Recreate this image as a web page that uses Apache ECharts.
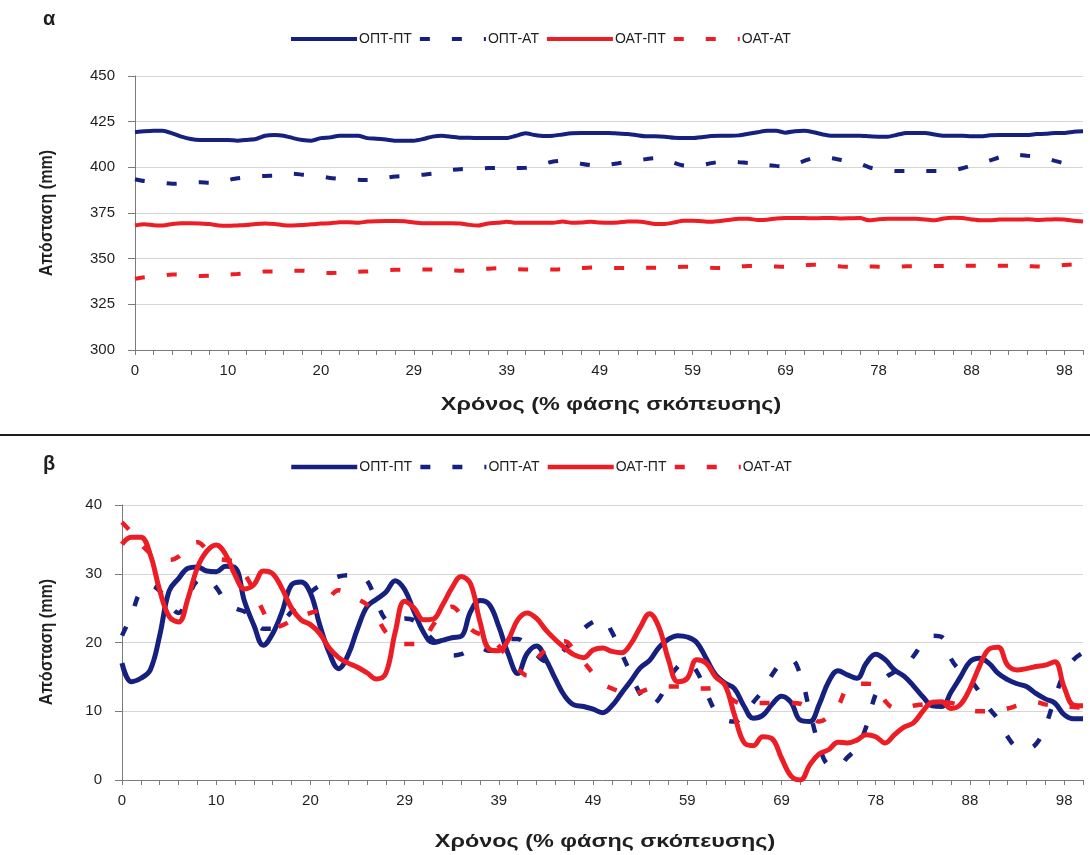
<!DOCTYPE html>
<html>
<head>
<meta charset="utf-8">
<script src="https://cdn.jsdelivr.net/npm/echarts@6/dist/echarts.min.js"></script>
<style>
  html, body { margin: 0; padding: 0; background: #ffffff; }
  #wrap { position: relative; width: 1090px; height: 855px; }
  #chartA { position: absolute; left: 0; top: 0; width: 1090px; height: 434px; }
  #divider { position: absolute; left: 0; top: 434px; width: 1090px; height: 2px; background: #1e1e1e; }
  #chartB { position: absolute; left: 0; top: 436px; width: 1090px; height: 419px; }
</style>
</head>
<body>
<div id="wrap">
  <div id="chartA"></div>
  <div id="divider"></div>
  <div id="chartB"></div>
</div>
<script>
// Time axis: 103 samples over the aiming phase (0–100 %), labelled every 10th sample
const SAMPLE_COUNT = 103;
const xTickLabels = ['0', '10', '20', '29', '39', '49', '59', '69', '78', '88', '98'];
const seriesNames = ['ΟΠΤ-ΠΤ', 'ΟΠΤ-ΑΤ', 'ΟΑΤ-ΠΤ', 'ΟΑΤ-ΑΤ'];
const xTitle = 'Χρόνος (% φάσης σκόπευσης)';
const yTitle = 'Απόσταση (mm)';

// Panel α: distance (mm)
const optPtA = [
  419.2, 419.7, 420, 420, 418.6, 416.8, 415.5, 415, 415, 415,
  415, 414.6, 415, 415.5, 417.3, 417.7, 417.3, 416, 415, 414.6,
  416, 416.4, 417.3, 417.3, 417.3, 416, 415.7, 415.2, 414.6, 414.6,
  414.6, 415.5, 416.8, 417.3, 416.8, 416.2, 416.2, 416, 416, 416,
  416, 417.3, 418.6, 417.7, 417.2, 417.3, 418, 418.6, 418.8, 418.8,
  418.8, 418.8, 418.5, 418.3, 417.6, 417, 417, 416.8, 416.2, 416,
  416, 416.5, 417.2, 417.3, 417.3, 417.5, 418.4, 419.2, 420, 420,
  419, 419.8, 420, 419.2, 418, 417.3, 417.3, 417.3, 417.3, 417,
  416.8, 416.8, 417.8, 418.8, 418.8, 418.8, 418, 417.3, 417.3, 417.3,
  417, 417, 417.5, 417.7, 417.7, 417.7, 417.7, 418.2, 418.4, 418.8,
  418.8, 419.5, 419.7
];
const optAtA = [
  393.5, 392.5, 392, 391.5, 391, 391.2, 391.5, 391.8, 391.5, 392,
  393, 394, 394.5, 395, 395.3, 395.5, 396, 396.5, 396, 395.5,
  395, 394.2, 393.8, 393.5, 393.2, 393, 393.5, 394.3, 395, 395.3,
  395.5, 396, 396.5, 397.5, 398.5, 399, 399.2, 399.4, 399.6, 399.7,
  399.5, 399.6, 399.7, 400.5, 402, 403.2, 403.7, 403, 402, 401.2,
  401, 401.5, 402.2, 403, 403.8, 404.5, 405, 404.2, 402.5, 401,
  400.6, 401.2, 402.3, 403.1, 403.2, 402.8, 402.4, 402, 401.3, 400.8,
  400.4, 401.5, 403.5, 405.2, 405.5, 405, 404, 403.3, 402, 400,
  398.8, 398.3, 398, 398, 398, 398, 398, 398, 398.3, 399.5,
  401, 402.2, 403.8, 405.5, 406.8, 406.8, 406.3, 405.8, 405, 403.5,
  402.2, 401.2, 400.8
];
const oatPtA = [
  368.2, 368.8, 368.3, 368.2, 369, 369.4, 369.4, 369.3, 369, 368.2,
  368, 368.2, 368.4, 369, 369.2, 369, 368.3, 368.2, 368.4, 368.8,
  369.2, 369.4, 370, 370, 369.6, 370.3, 370.5, 370.6, 370.6, 370.5,
  369.8, 369.4, 369.4, 369.4, 369.4, 369.3, 368.5, 368.2, 369.3, 369.6,
  370.2, 369.6, 369.6, 369.6, 369.6, 369.6, 370.4, 369.6, 369.8, 370.2,
  369.8, 369.6, 369.8, 370.4, 370.3, 369.8, 369, 369, 369.8, 370.7,
  370.7, 370.5, 370.2, 370.6, 371.3, 371.8, 371.8, 371.2, 371.3, 372,
  372.2, 372.2, 372.2, 372.1, 372.2, 372.2, 372, 372.1, 372.2, 371,
  371.6, 371.8, 371.8, 371.8, 371.8, 371.5, 371, 372, 372.4, 372.2,
  371.5, 371, 371, 371.4, 371.4, 371.4, 371.6, 371.2, 371.4, 371.6,
  371.4, 370.8, 370.4
];
const oatAtA = [
  339, 339.8, 340.3, 340.8, 341.3, 341.2, 340.8, 340.5, 340.6, 341,
  341.3, 341.6, 342, 342.5, 343, 343, 343.2, 343.4, 343.4, 343,
  342.5, 342.1, 342.3, 342.6, 342.9, 343, 343.2, 343.6, 343.9, 344,
  344.1, 344.1, 344, 343.7, 343.5, 343.4, 343.8, 344.2, 344.5, 344.7,
  344.5, 344.2, 344.1, 344.1, 344.1, 344.1, 344.2, 344.5, 344.8, 345.1,
  345.2, 345, 344.9, 344.9, 345, 345, 345, 345.2, 345.4, 345.6,
  345.5, 345.2, 345, 344.9, 345.3, 345.7, 346, 345.9, 345.8, 345.7,
  345.6, 346, 346.4, 346.7, 346.5, 346, 345.7, 345.6, 345.6, 345.7,
  345.6, 345.6, 345.7, 345.8, 345.8, 345.9, 346, 346, 346.1, 346.1,
  346.1, 346.1, 346.1, 346.1, 346.1, 346.1, 345.9, 345.7, 345.6, 346,
  346.5, 346.9, 347
];

// Panel β: distance (mm)
const optPtB = [
  17.0, 14.3, 14.8, 16.0, 21.0, 27.5, 29.3, 30.8, 31.0, 30.4,
  30.3, 31.1, 30.9, 26.0, 22.5, 19.6, 21.3, 24.5, 28.4, 28.8,
  27.2, 22.5, 18.5, 16.2, 18.2, 22.0, 25.2, 26.3, 27.3, 29.0,
  27.7, 24.5, 21.5, 20.0, 20.3, 20.7, 20.9, 24.5, 26.1, 25.5,
  22.3, 18.3, 15.5, 18.4, 19.5, 17.5, 14.7, 12.2, 10.9, 10.7,
  10.3, 9.8, 10.8, 12.6, 14.4, 16.3, 17.4, 19.3, 20.5, 21.0,
  20.8, 20.0, 17.7, 15.3, 14.1, 13.3, 10.8, 9.0, 9.4, 11.0,
  12.2, 11.3, 8.7, 8.5, 11.0, 14.3, 15.9, 15.3, 14.8, 17.0,
  18.3, 17.5, 16.0, 15.1, 13.7, 12.1, 10.8, 10.7, 12.8, 15.0,
  17.2, 17.7, 17.0, 15.5, 14.6, 14.0, 13.6, 12.6, 11.8, 11.2,
  9.5, 8.9, 8.9
];
const optAtB = [
  21.0, 24.0, 27.5, 28.3, 27.5, 25.5, 24.3, 26.5, 29.0, 29.3,
  28.0, 26.0, 25.0, 24.5, 23.5, 22.0, 22.0, 23.0, 24.5, 26.0,
  27.3, 28.3, 29.0, 29.6, 29.8, 29.8, 29.0, 26.0, 23.3, 22.8,
  23.5, 23.2, 21.8, 20.4, 19.0, 18.1, 18.3, 19.0, 19.2, 18.8,
  19.2, 20.5, 20.5, 19.5, 18.2, 17.3, 17.5, 19.0, 20.5, 22.0,
  23.0, 23.4, 21.5, 18.5, 15.5, 12.5, 10.8, 11.8, 14.5, 16.5,
  17.2, 15.8, 12.8, 10.0, 8.8, 8.5, 9.5, 11.3, 13.0, 15.3,
  17.0, 17.5, 15.3, 10.0, 5.0, 2.2, 2.0, 3.3, 4.7, 7.8,
  12.5, 14.8, 15.7, 16.3, 18.0, 19.9, 21.0, 20.8, 17.6, 15.8,
  14.6, 12.8, 10.5, 8.8, 6.3, 4.8, 4.6, 5.2, 7.8, 11.9,
  15.5, 17.5, 18.5
];
const oatPtB = [
  34.3, 35.3, 35.3, 32.8, 27.6, 23.8, 23.0, 26.4, 30.9, 33.3,
  34.2, 32.8, 29.8, 27.8, 28.4, 30.4, 30.0, 27.8, 25.0, 23.3,
  22.6, 21.3, 19.2, 17.8, 17.0, 16.4, 15.6, 14.7, 15.5, 21.5,
  26.0, 25.0, 23.3, 23.4, 25.4, 27.9, 29.6, 28.5, 23.0, 19.0,
  18.8, 20.4, 23.3, 24.3, 23.5, 21.8, 20.4, 19.2, 18.2, 17.8,
  18.9, 19.2, 18.7, 18.5, 19.8, 22.2, 24.2, 22.2, 17.5, 14.3,
  14.8, 17.5, 17.0, 15.0, 13.8, 9.5, 5.5, 5.0, 6.3, 6.0,
  3.2, 0.6, 0.0, 2.2, 3.8, 4.4, 5.5, 5.4, 5.8, 6.6,
  6.3, 5.4, 6.6, 7.7, 8.3, 10.0, 11.3, 11.4, 10.4, 11.0,
  13.3, 16.5, 19.0, 19.3, 16.7, 16.0, 16.2, 16.5, 16.7, 17.2,
  13.5, 10.9, 10.8
];
const oatAtB = [
  37.5, 36.0, 34.3, 33.0, 32.2, 32.0, 32.5, 34.0, 34.6, 33.5,
  32.3, 32.0, 31.7, 30.0, 27.5, 24.5, 22.2, 22.5, 23.2, 23.8,
  24.3, 24.8, 26.5, 27.6, 27.0, 26.3, 25.5, 23.8, 21.5, 20.3,
  19.8, 19.8, 20.2, 22.5, 24.2, 25.2, 24.0, 22.0, 21.2, 20.9,
  19.5, 17.8, 16.2, 15.2, 17.5, 19.0, 20.0, 20.2, 18.8, 17.2,
  15.5, 14.0, 13.3, 12.8, 12.4, 12.8, 13.3, 13.6, 13.6, 13.6,
  13.5, 13.3, 13.3, 13.4, 12.5, 11.5, 11.1, 11.2, 11.2, 11.2,
  11.2, 11.2, 11.1, 9.8, 8.5, 9.2, 10.7, 13.5, 14.0, 14.0,
  13.8, 11.5, 10.5, 10.5, 10.8, 11.0, 11.2, 11.3, 11.2, 10.8,
  10.2, 10.0, 10.0, 10.1, 10.4, 10.8, 11.2, 11.3, 11.0, 10.8,
  10.7, 10.6, 10.5
];

const NAVY = '#16217f';
const RED = '#ec1d24';
const TEXT = '#1f1f1f';
const AXIS = '#7a7a7a';
const FONT = '"Liberation Sans", Arial, sans-serif';
const DASH = [10, 22];

const categories = Array.from({ length: SAMPLE_COUNT }, (_, i) => String(i));

function line(name, data, color, width, dashed, smooth) {
  return {
    name: name,
    type: 'line',
    data: data,
    symbol: 'none',
    showSymbol: false,
    smooth: smooth,
    animation: false,
    emphasis: { disabled: true },
    itemStyle: { color: color },
    lineStyle: { color: color, width: width, type: dashed ? DASH : 'solid', cap: 'butt' }
  };
}

function panel(cfg) {
  return {
    animation: false,
    backgroundColor: '#ffffff',
    title: {
      text: cfg.tag, left: 38, top: cfg.tagTop,
      textStyle: { fontFamily: FONT, fontSize: 20, fontWeight: 'bold', color: TEXT }
    },
    legend: {
      left: 284, top: cfg.legendTop,
      itemWidth: 66, itemHeight: 12, itemGap: 6,
      selectedMode: false,
      data: seriesNames,
      itemStyle: { opacity: 0 },
      lineStyle: { width: cfg.legendLineWidth },
      textStyle: { fontFamily: FONT, fontSize: 14, color: TEXT, padding: [0, 0, 0, -3] }
    },
    grid: { left: cfg.gridLeft, right: 7, top: cfg.gridTop, height: cfg.gridHeight, containLabel: false },
    xAxis: {
      type: 'category',
      data: categories,
      boundaryGap: false,
      axisLine: { lineStyle: { color: AXIS, width: 1 } },
      axisTick: { interval: 1, length: 5, lineStyle: { color: AXIS } },
      axisLabel: {
        interval: 9, margin: 13, fontFamily: FONT, fontSize: 15, color: TEXT,
        formatter: function (v, idx) { return xTickLabels[idx / 10]; }
      },
      splitLine: { show: false }
    },
    yAxis: {
      type: 'value',
      min: cfg.yMin, max: cfg.yMax, interval: cfg.yStep,
      axisLine: { show: true, lineStyle: { color: AXIS, width: 1 } },
      axisTick: { show: true, length: 7, lineStyle: { color: AXIS } },
      axisLabel: { margin: 20, fontFamily: FONT, fontSize: 15, color: TEXT },
      splitLine: { lineStyle: { color: '#d6d6d6', width: 1 } }
    },
    // axis titles: the horizontal one is drawn wide, the vertical one condensed
    graphic: [
      {
        type: 'text', x: cfg.xTitleX, y: cfg.xTitleY, scaleX: 1.3,
        style: { text: xTitle, align: 'center', verticalAlign: 'middle',
                 font: 'bold 18px ' + FONT, fill: TEXT }
      },
      {
        type: 'text', x: 47, y: cfg.yTitleY, rotation: Math.PI / 2, scaleX: 0.85,
        style: { text: yTitle, align: 'center', verticalAlign: 'middle',
                 font: 'bold 19px ' + FONT, fill: TEXT }
      }
    ],
    series: [
      line(seriesNames[0], cfg.data[0], NAVY, cfg.solidWidth, false, cfg.smooth),
      line(seriesNames[1], cfg.data[1], NAVY, cfg.dashWidth, true, cfg.smooth),
      line(seriesNames[2], cfg.data[2], RED, cfg.solidWidth, false, cfg.smooth),
      line(seriesNames[3], cfg.data[3], RED, cfg.dashWidth, true, cfg.smooth)
    ]
  };
}

const chartA = echarts.init(document.getElementById('chartA'), null, { renderer: 'canvas' });
chartA.setOption(panel({
  tag: 'α', tagTop: 4, legendTop: 27,
  gridLeft: 135, gridTop: 76, gridHeight: 274,
  yMin: 300, yMax: 450, yStep: 25,
  xTitleX: 611, xTitleY: 405, yTitleY: 213,
  solidWidth: 4, dashWidth: 4, smooth: 0.2, legendLineWidth: 4,
  data: [optPtA, optAtA, oatPtA, oatAtA]
}));

const chartB = echarts.init(document.getElementById('chartB'), null, { renderer: 'canvas' });
chartB.setOption(panel({
  tag: 'β', tagTop: 13, legendTop: 19,
  gridLeft: 122, gridTop: 69, gridHeight: 275,
  yMin: 0, yMax: 40, yStep: 10,
  xTitleX: 605, xTitleY: 406, yTitleY: 206,
  solidWidth: 5, dashWidth: 4.5, smooth: 0.4, legendLineWidth: 4.5,
  data: [optPtB, optAtB, oatPtB, oatAtB]
}));
</script>
</body>
</html>
